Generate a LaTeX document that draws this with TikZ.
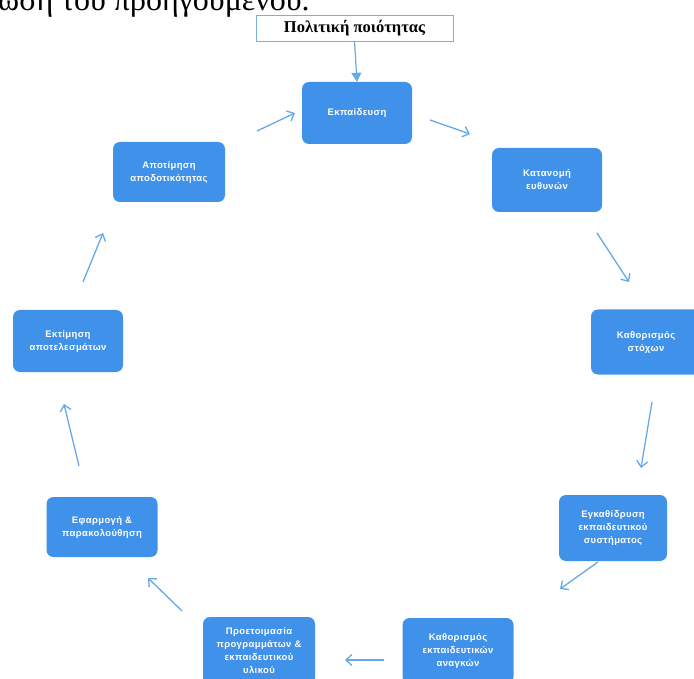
\documentclass[tikz,border=0pt]{standalone}
\usepackage{fontspec}
\setmainfont{Liberation Serif}
\newfontfamily\boxfont[LetterSpace=4]{Liberation Sans}
\usetikzlibrary{arrows.meta}
\definecolor{boxblue}{RGB}{64,145,234}
\definecolor{arrowblue}{RGB}{104,168,232}
\definecolor{framblue}{RGB}{120,176,228}
\tikzset{
  stage/.style={rectangle, rounded corners=7pt, fill=boxblue, text=white,
    font=\boxfont\bfseries\fontsize{9.5}{13}\selectfont, align=center,
    inner sep=2pt},
  cyc/.style={draw=arrowblue, line width=1.3pt,
    -{Straight Barb[length=6pt,width=11pt,line width=1.3pt]}},
  feed/.style={draw=arrowblue, line width=1.2pt,
    -{Triangle[length=9pt,width=10pt]}},
}
\begin{document}
\begin{tikzpicture}[x=1pt,y=-1pt]
\useasboundingbox (0,0) rectangle (694,679);
\clip (0,0) rectangle (694,679);

% cropped line of the running text above the figure
\node[anchor=base west, inner sep=0pt, font=\fontsize{32}{34}\selectfont]
  (prev) at (-2,11) {ωση του προηγούμενου.};

% quality policy feeding the cycle
\node[draw=framblue, line width=0.6pt, inner sep=0pt, minimum width=197pt,
  minimum height=26pt, font=\bfseries\fontsize{16.5}{18}\selectfont]
  (pol) at (354.5,28) {Πολιτική ποιότητας};

% stages of the cycle
\node[stage, minimum width=110pt, minimum height=62pt] (e1) at (357,113) {Εκπαίδευση};
\node[stage, minimum width=110pt, minimum height=64pt] (e2) at (547,180) {Κατανομή\\ευθυνών};
\node[stage, minimum width=110pt, minimum height=65pt] (e3) at (646,342) {Καθορισμός\\στόχων};
\node[stage, minimum width=108pt, minimum height=66pt] (e4) at (613,528) {Εγκαθίδρυση\\εκπαιδευτικού\\συστήματος};
\node[stage, minimum width=111pt, minimum height=66pt] (e5) at (458,651) {Καθορισμός\\εκπαιδευτικών\\αναγκών};
\node[stage, minimum width=112pt, minimum height=68pt] (e6) at (259,651) {Προετοιμασία\\προγραμμάτων \&\\εκπαιδευτικού\\υλικού};
\node[stage, minimum width=111pt, minimum height=60pt] (e7) at (102,527) {Εφαρμογή \&\\παρακολούθηση};
\node[stage, minimum width=110pt, minimum height=62pt] (e8) at (68,341) {Εκτίμηση\\αποτελεσμάτων};
\node[stage, minimum width=112pt, minimum height=60pt] (e9) at (169,172) {Αποτίμηση\\αποδοτικότητας};

% end points of the arrows between the stages
\coordinate (s1) at (430,120);  \coordinate (t1) at (470,134);
\coordinate (s2) at (597,233);  \coordinate (t2) at (629,282);
\coordinate (s3) at (652,402);  \coordinate (t3) at (641,468);
\coordinate (s4) at (598,562);  \coordinate (t4) at (560,589);
\coordinate (s5) at (384,660);  \coordinate (t5) at (345,660);
\coordinate (s6) at (182,611);  \coordinate (t6) at (148,578);
\coordinate (s7) at (79,466);   \coordinate (t7) at (64,404);
\coordinate (s8) at (83,282);   \coordinate (t8) at (103,233);
\coordinate (s9) at (257,131);  \coordinate (t9) at (295,113);

\draw[feed] (pol.south) -- (e1.north);
\foreach \i in {1,...,9} \draw[cyc] (s\i) -- (t\i);
\end{tikzpicture}
\end{document}
